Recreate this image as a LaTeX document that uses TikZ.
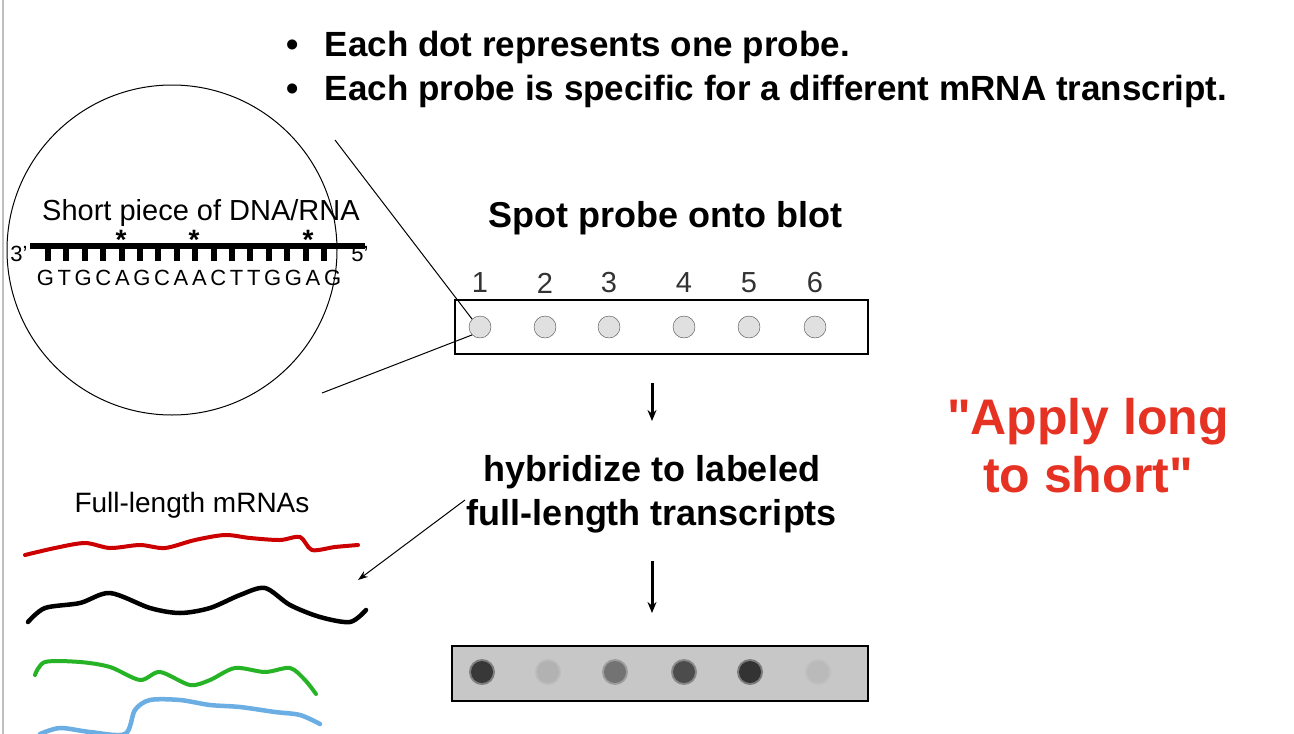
\documentclass[tikz,border=0pt]{standalone}
\usepackage{fontspec}
\setmainfont{Liberation Sans}
\newfontfamily\rawf{Liberation Sans}
\usetikzlibrary{arrows.meta}
\begin{document}
\begin{tikzpicture}[x=1pt,y=-1pt,
  probe/.style={circle,draw=black!70,fill=black!12,minimum size=22pt,inner sep=0pt,thin},
  num/.style={font=\fontsize{29}{30}\selectfont,text=black!80},
  bold/.style={font=\fontsize{36}{40}\selectfont\bfseries},
  arr/.style={-{Stealth[length=11pt,width=9pt]},line width=3pt}]
\useasboundingbox (0,0) rectangle (1294,734);
\fill[white] (0,0) rectangle (1294,734);
\draw[black!25,line width=2pt] (3,0) -- (3,734);
% bullets
\node[anchor=west,font=\fontsize{35}{40}\selectfont\bfseries] (b1) at (283,47) {•\hspace{26pt}Each dot represents one probe.};
\node[anchor=west,font=\fontsize{35}{40}\selectfont\bfseries] (b2) at (283,91) {•\hspace{26pt}Each probe is specific for a different mRNA transcript.};
% circle
\node[circle,draw,line width=1pt,minimum size=330pt] (zoomc) at (172,250) {};
\node[font=\fontsize{29}{32}\selectfont] (spt) at (201,213) {Short piece of DNA/RNA};
\draw[line width=6pt] (30,246) -- (365,246);
\foreach \i in {0,...,15} {\draw[line width=6pt] ({48+\i*18.4},246) -- ({48+\i*18.4},261);}
\node[font=\fontsize{28}{30}\selectfont\bfseries] (s1) at (121,240) {*};
\node[font=\fontsize{28}{30}\selectfont\bfseries] (s2) at (194,240) {*};
\node[font=\fontsize{28}{30}\selectfont\bfseries] (s3) at (308,240) {*};
\node[font=\fontsize{22}{24}\selectfont] (p3) at (19,254) {3’};
\node[font=\fontsize{22}{24}\selectfont] (p5) at (360,254) {5’};
\node[font=\fontsize{22}{24}\selectfont] (seq) at (189,278) {G\,T\,G\,C\,A\,G\,C\,A\,A\,C\,T\,T\,G\,G\,A\,G};
% top blot
\node[bold] (spot) at (665,218) {Spot probe onto blot};
\draw[line width=2pt] (455,300) rectangle (868,354);
\foreach \n/\x in {1/480,2/545,3/609,4/684,5/749,6/815} {
  \node[probe] (d\n) at (\x,327) {};
  \node[num] (n\n) at (\x,283) {\n};
}
\coordinate (c1) at (335,140);
\coordinate (c2) at (322,393);
\draw[line width=1pt] (c1) -- (d1.north west);
\draw[line width=1pt] (c2) -- (d1.south west);
\coordinate (a1s) at (652,383); \coordinate (a1e) at (652,421);
\draw[arr] (a1s) -- (a1e);
\node[bold] (hy1) at (652,472) {hybridize to labeled};
\node[bold] (hy2) at (652,516) {full-length transcripts};
\coordinate (a2s) at (652,561); \coordinate (a2e) at (652,613);
\draw[arr] (a2s) -- (a2e);
% bottom blot
\draw[line width=2pt,fill=black!22] (452,646) rectangle (868,701);
\foreach \n/\x/\c in {1/482/78,2/548/30,3/615/55,4/684/70,5/750/80,6/818/27} {
  \fill[black!\c,opacity=0.5] (\x,672) circle (13);
  \fill[black!\c] (\x,672) circle (11);
}
% red text
\node[font=\fontsize{50}{58}\selectfont\bfseries\rawf,text={rgb,255:red,230;green,50;blue,35},align=center] (apply) at (1088,446) {"Apply long\\to short"};
% mRNAs
\node[font=\fontsize{28}{30}\selectfont] (fl) at (192,505) {Full-length mRNAs};
\coordinate (ta) at (465,500); \coordinate (tb) at (358,580);
\draw[-{Stealth[length=10pt,width=7pt]},line width=1pt] (ta) -- (tb);
\draw[red!80!black,line width=4pt,line cap=round] plot[smooth] coordinates {(25,555)(55,548)(85,543)(110,548)(140,545)(165,548)(195,540)(225,535)(250,538)(280,540)(300,537)(312,550)(335,547)(358,545)};
\draw[black,line width=4.5pt,line cap=round] plot[smooth] coordinates {(28,622)(45,608)(80,603)(110,593)(150,608)(180,613)(210,608)(240,595)(265,588)(290,605)(320,617)(350,622)(366,610)};
\draw[green!65!black!85!white,line width=4pt,line cap=round] plot[smooth] coordinates {(35,675)(45,662)(80,662)(110,667)(140,680)(160,672)(190,685)(210,680)(235,668)(265,672)(290,668)(305,680)(316,694)};
\draw[cyan!70!blue!60!white,line width=4.5pt,line cap=round] plot[smooth] coordinates {(40,734)(60,728)(90,732)(125,734)(135,710)(150,700)(180,700)(210,705)(240,707)(275,712)(300,715)(320,724)};
\end{tikzpicture}
\end{document}
